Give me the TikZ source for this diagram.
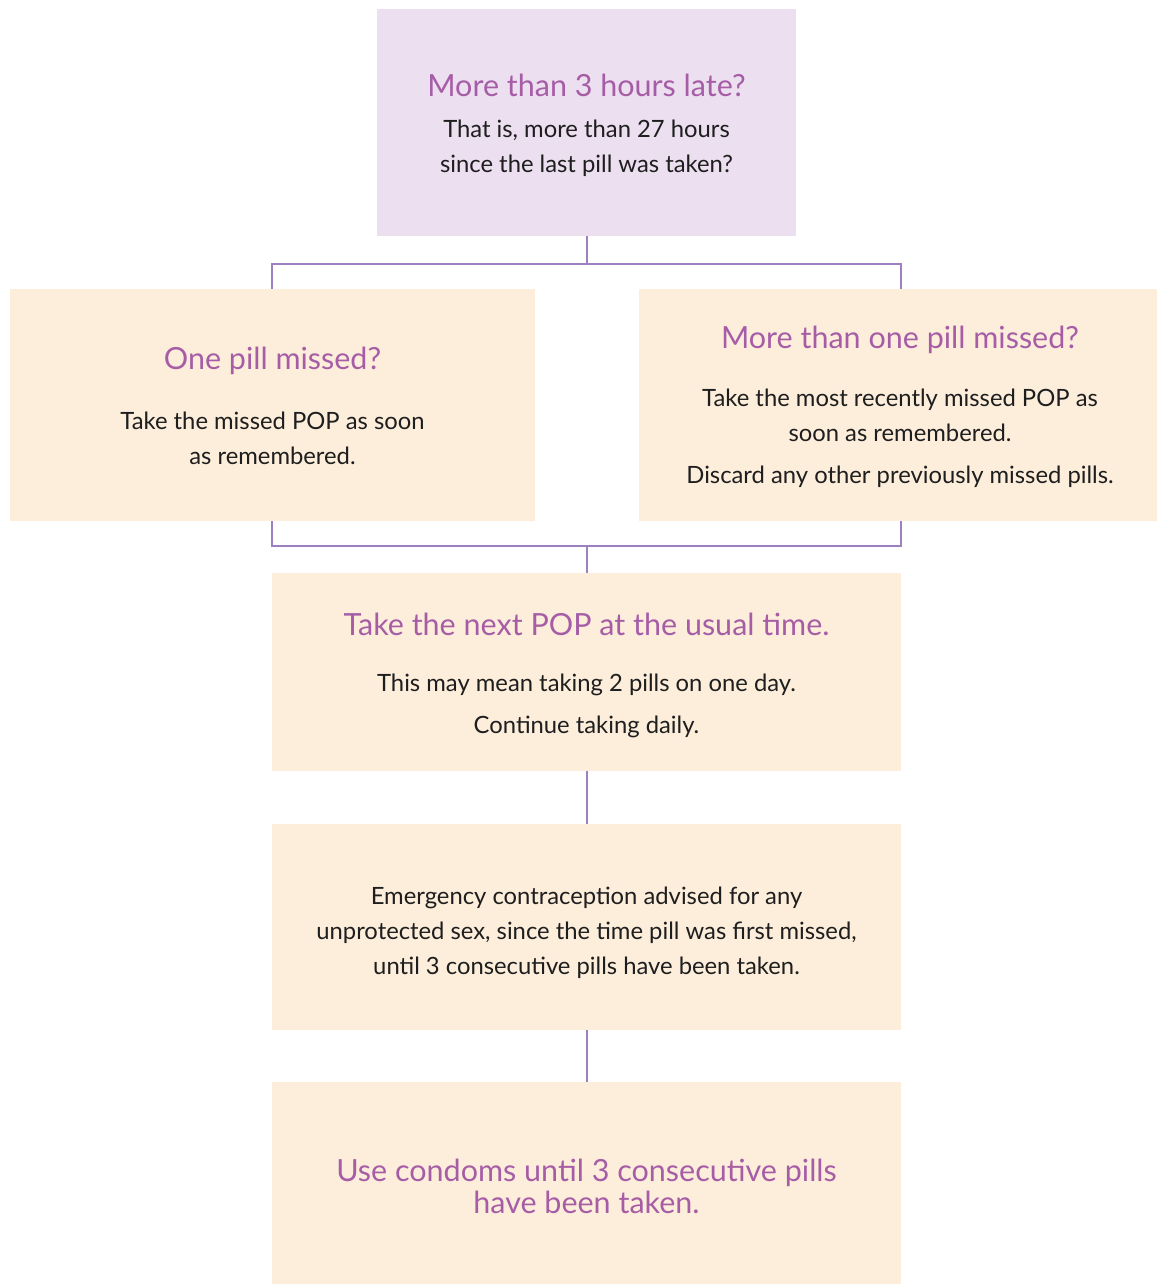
\documentclass[tikz,border=0pt]{standalone}
\usepackage{fontspec}
\setmainfont{Lato}
\definecolor{lilac}{HTML}{EBDFF0}
\definecolor{peach}{HTML}{FDEEDC}
\definecolor{plum}{HTML}{A65DA6}
\definecolor{wire}{HTML}{9D80C0}
\definecolor{ink}{HTML}{1E1E1E}
\tikzset{
  card/.style={inner sep=0pt,outer sep=0pt},
  lilaccard/.style={card,fill=lilac},
  peachcard/.style={card,fill=peach},
  headline/.style={text=plum,align=center,font=\fontsize{30.5}{32}\selectfont},
  bodytext/.style={text=ink,align=center,font=\fontsize{23.8}{35}\selectfont},
  link/.style={draw=wire,line width=2pt}
}
\begin{document}
\begin{tikzpicture}[x=1pt,y=-1pt]
  \path[use as bounding box] (0,0) rectangle (1157,1284);
  % boxes
  \node[lilaccard,minimum width=419pt,minimum height=227pt] (late) at (586.5,122.5) {};
  \node[peachcard,minimum width=525pt,minimum height=232pt] (one) at (272.5,405) {};
  \node[peachcard,minimum width=518pt,minimum height=232pt] (more) at (898,405) {};
  \node[peachcard,minimum width=629pt,minimum height=198pt] (next) at (586.5,672) {};
  \node[peachcard,minimum width=629pt,minimum height=206pt] (advice) at (586.5,927) {};
  \node[peachcard,minimum width=629pt,minimum height=202pt] (condoms) at (586.5,1183) {};
  % texts
  \node[headline] (latehead) at (586.5,85) {More than 3 hours late?};
  \node[bodytext] (latebody) at (586.5,148) {That is, more than 27 hours\\since the last pill was taken?};
  \node[headline] (onehead) at (272.5,361) {One pill missed?};
  \node[bodytext] (onebody) at (272.5,438.5) {Take the missed POP as soon\\as remembered.};
  \node[headline] (morehead) at (900,340) {More than one pill missed?};
  \node[bodytext] (morebody) at (900,438.5) {Take the most recently missed POP as\\soon as remembered.\\[7pt]Discard any other previously missed pills.};
  \node[headline] (nexthead) at (586.5,624) {Take the next POP at the usual time.};
  \node[bodytext] (nextbody) at (586.5,706) {This may mean taking 2 pills on one day.\\[7pt]Continue taking daily.};
  \node[bodytext] (advicebody) at (586.5,933) {Emergency contraception advised for any\\unprotected sex, since the time pill was first missed,\\until 3 consecutive pills have been taken.};
  \node[headline] (condomshead) at (586.5,1186) {Use condoms until 3 consecutive pills\\have been taken.};
  % connectors
  \coordinate (fork) at (586.5,264);
  \coordinate (join) at (586.5,546);
  \draw[link] (late.south) -- (fork);
  \draw[link] (fork) -| (one.north -| next.west);
  \draw[link] (fork) -| (more.north -| next.east);
  \draw[link] (one.south -| next.west) |- (join) -| (more.south -| next.east);
  \draw[link] (join) -- (next.north);
  \draw[link] (next.south) -- (advice.north);
  \draw[link] (advice.south) -- (condoms.north);
\end{tikzpicture}
\end{document}
